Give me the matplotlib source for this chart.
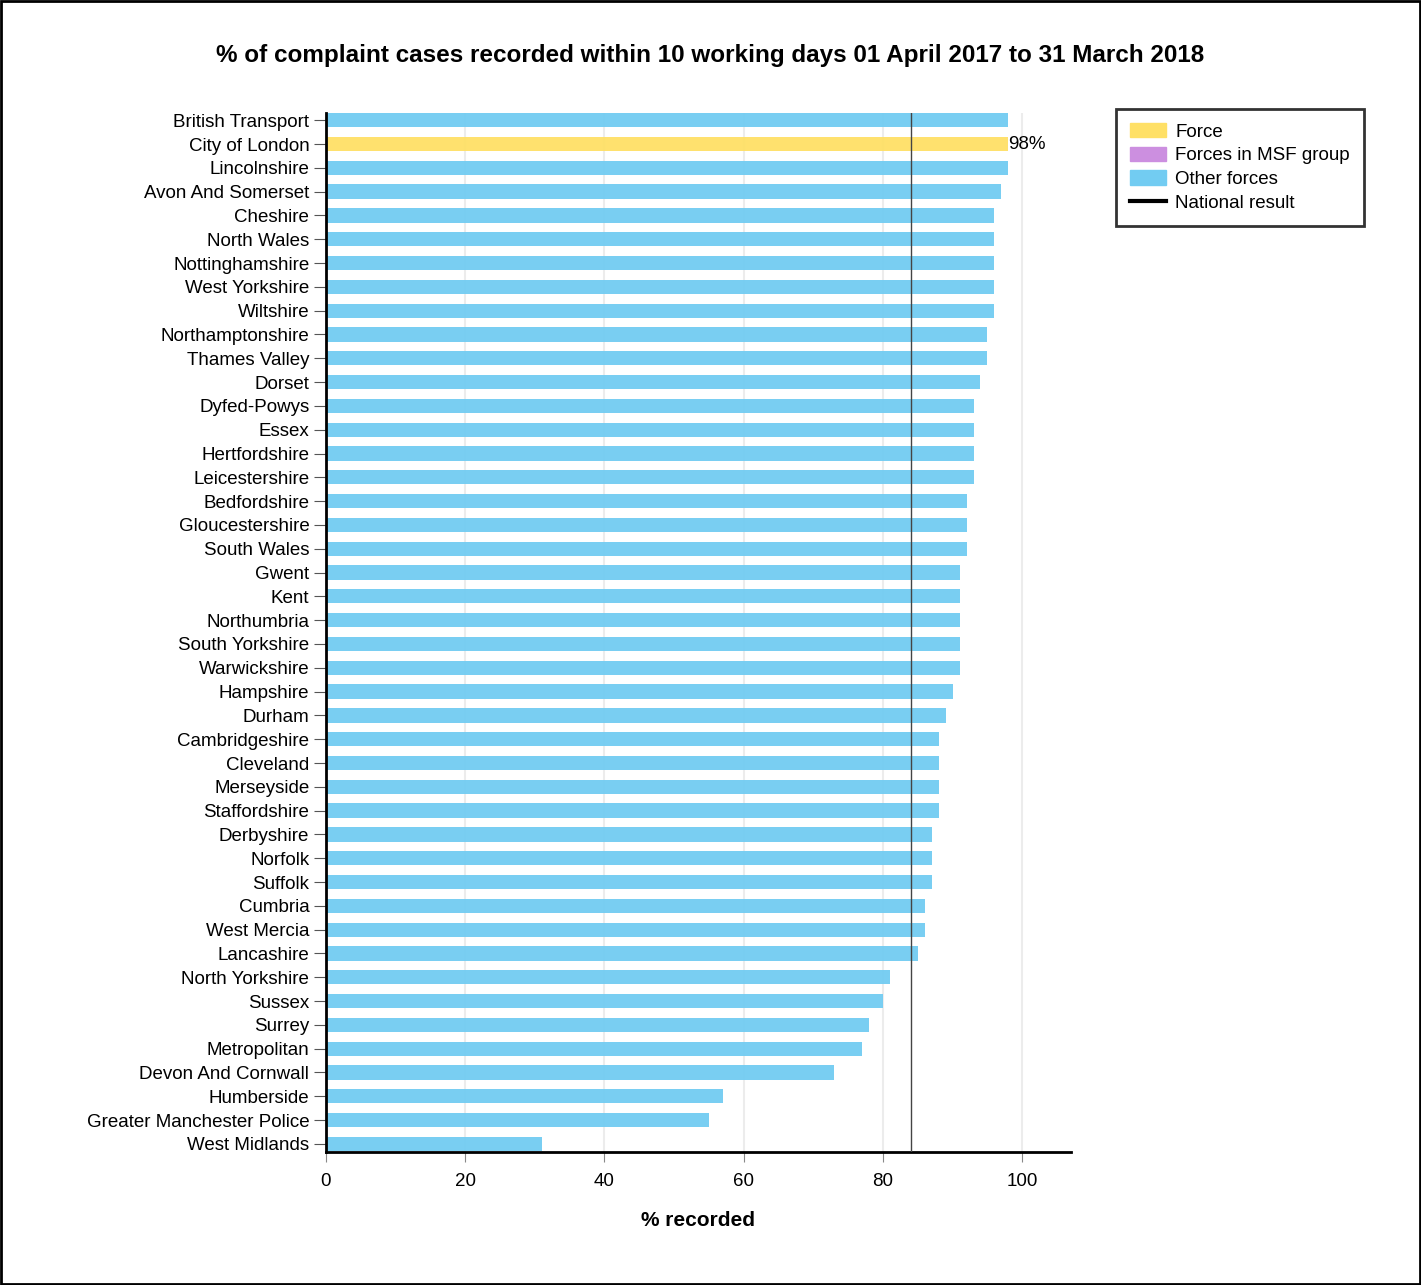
import numpy as np
import matplotlib.pyplot as plt
from matplotlib.patches import Patch
from matplotlib.lines import Line2D

plt.rcParams['font.family'] = ['Liberation Sans', 'DejaVu Sans']

forces = ['British Transport', 'City of London', 'Lincolnshire', 'Avon And Somerset',
          'Cheshire', 'North Wales', 'Nottinghamshire', 'West Yorkshire', 'Wiltshire',
          'Northamptonshire', 'Thames Valley', 'Dorset', 'Dyfed-Powys', 'Essex',
          'Hertfordshire', 'Leicestershire', 'Bedfordshire', 'Gloucestershire',
          'South Wales', 'Gwent', 'Kent', 'Northumbria', 'South Yorkshire',
          'Warwickshire', 'Hampshire', 'Durham', 'Cambridgeshire', 'Cleveland',
          'Merseyside', 'Staffordshire', 'Derbyshire', 'Norfolk', 'Suffolk',
          'Cumbria', 'West Mercia', 'Lancashire', 'North Yorkshire', 'Sussex',
          'Surrey', 'Metropolitan', 'Devon And Cornwall', 'Humberside',
          'Greater Manchester Police', 'West Midlands']
values = [98, 98, 98, 97, 96, 96, 96, 96, 96, 95, 95, 94, 93, 93, 93, 93, 92, 92, 92,
          91, 91, 91, 91, 91, 90, 89, 88, 88, 88, 88, 87, 87, 87, 86, 86, 85, 81, 80,
          78, 77, 73, 57, 55, 31]
highlight = 'City of London'
national = 84

c_force = '#FFE066'
c_msf = '#CC8FE0'
c_other = '#72CCF2'

fig = plt.figure(figsize=(14.21, 12.85), dpi=100)
ax = fig.add_axes([0.2294, 0.1035, 0.5243, 0.8085])

y = np.arange(len(forces))
colors = [c_force if f == highlight else c_other for f in forces]
ax.barh(y, values, height=0.6, color=colors, alpha=0.95, zorder=2)
ax.axvline(national, color='#444444', lw=1, zorder=3)

i = forces.index(highlight)
ax.text(values[i], i, '%d%%' % values[i], va='center', ha='left', fontsize=13.5)

ax.set_xlim(0, 107)
ax.set_ylim(len(forces) - 1 + 0.34, -0.3)
ax.set_yticks(y)
ax.set_yticklabels(forces, fontsize=13.5)
ax.set_xticks([0, 20, 40, 60, 80, 100])
ax.tick_params(axis='x', labelsize=13.5, color='#888888', length=7, pad=8)
ax.tick_params(axis='y', color='#555555', length=9, pad=3)
ax.grid(axis='x', color='#ececec', lw=1.5, zorder=0)
ax.set_axisbelow(True)
for s in ['top', 'right']:
    ax.spines[s].set_visible(False)
for s in ['left', 'bottom']:
    ax.spines[s].set_linewidth(2)
ax.set_xlabel('% recorded', fontsize=15, fontweight='bold', labelpad=15)

fig.suptitle('% of complaint cases recorded within 10 working days 01 April 2017 to 31 March 2018',
             fontsize=17.5, fontweight='bold', y=0.966)

handles = [Patch(color=c_force), Patch(color=c_msf), Patch(color=c_other),
           Line2D([0], [0], color='black', lw=3)]
labels = ['Force', 'Forces in MSF group', 'Other forces', 'National result']
leg = fig.legend(handles, labels, loc='upper left', bbox_to_anchor=(0.7854, 0.9152),
                 borderaxespad=0, fontsize=13.5, frameon=True, fancybox=False,
                 edgecolor='black', handlelength=1.9, handleheight=0.8,
                 labelspacing=0.32, borderpad=0.75, handletextpad=0.5)
leg.get_frame().set_linewidth(2)

fig.patches.append(plt.Rectangle((0.001, 0.001), 0.998, 0.998, transform=fig.transFigure,
                                 fill=False, edgecolor='black', lw=2))

fig.savefig('out.png', dpi=100)
